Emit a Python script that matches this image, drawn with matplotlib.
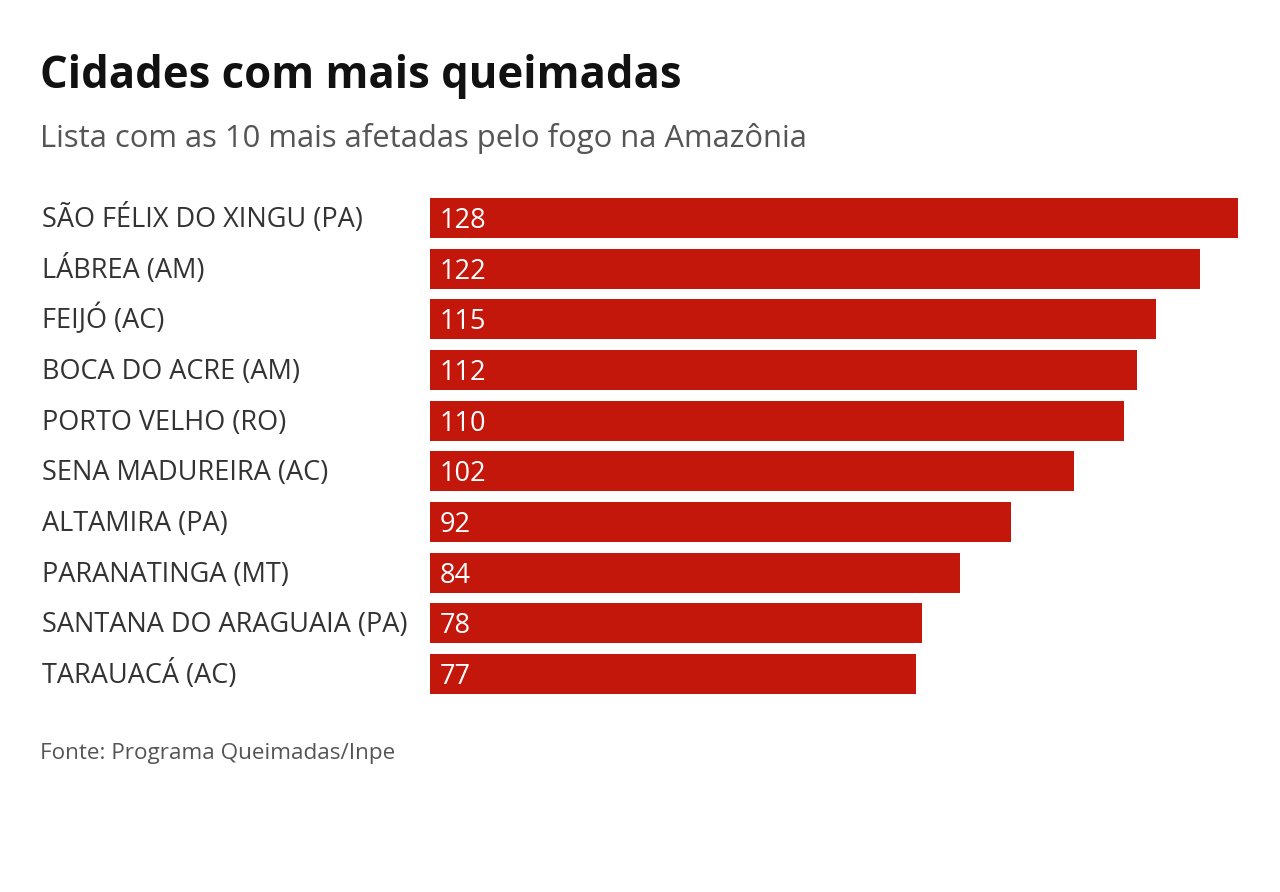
import matplotlib
matplotlib.use("Agg")
import matplotlib.pyplot as plt
import matplotlib.transforms as mtransforms

cities = ["SÃO FÉLIX DO XINGU (PA)", "LÁBREA (AM)", "FEIJÓ (AC)", "BOCA DO ACRE (AM)",
          "PORTO VELHO (RO)", "SENA MADUREIRA (AC)", "ALTAMIRA (PA)", "PARANATINGA (MT)",
          "SANTANA DO ARAGUAIA (PA)", "TARAUACÁ (AC)"]
values = [128, 122, 115, 112, 110, 102, 92, 84, 78, 77]

title = "Cidades com mais queimadas"
subtitle = "Lista com as 10 mais afetadas pelo fogo na Amazônia"
source = "Fonte: Programa Queimadas/Inpe"

W, H = 1280, 892
DPI = 100
plt.rcParams['font.family'] = ['Open Sans', 'DejaVu Sans']

fig = plt.figure(figsize=(W / DPI, H / DPI), dpi=DPI)
fig.patch.set_facecolor('white')

bar_h = 0.79
ax = fig.add_axes([430 / W, 1 - 694 / H, (1238 - 430) / W, (694 - 198) / H])
ax.barh(range(len(values)), values, height=bar_h, color='#C4170C')
ax.set_xlim(0, max(values))
ax.set_ylim(len(values) - 1 + bar_h / 2, -bar_h / 2)
ax.axis('off')

lab_tr = mtransforms.blended_transform_factory(fig.transFigure, ax.transData)
lab_tr = lab_tr + mtransforms.ScaledTranslation(0, -9 / DPI, fig.dpi_scale_trans)
val_tr = ax.transData + mtransforms.ScaledTranslation(10 / DPI, -10 / DPI, fig.dpi_scale_trans)
for i, (c, v) in enumerate(zip(cities, values)):
    ax.text(42 / W, i, c, transform=lab_tr, ha='left', va='baseline',
            fontsize=19.5, color='#333333')
    ax.text(0, i, str(v), transform=val_tr, ha='left', va='baseline',
            fontsize=19.5, color='white')

fig.text(40 / W, 1 - 88 / H, title, ha='left', va='baseline', fontsize=31.4,
         fontweight='bold', color='#111111')
fig.text(40 / W, 1 - 147 / H, subtitle, ha='left', va='baseline', fontsize=22.3,
         color='#555555')
fig.text(40 / W, 1 - 759 / H, source, ha='left', va='baseline', fontsize=16.2,
         color='#555555')

fig.savefig('out.png', dpi=DPI, facecolor='white')
